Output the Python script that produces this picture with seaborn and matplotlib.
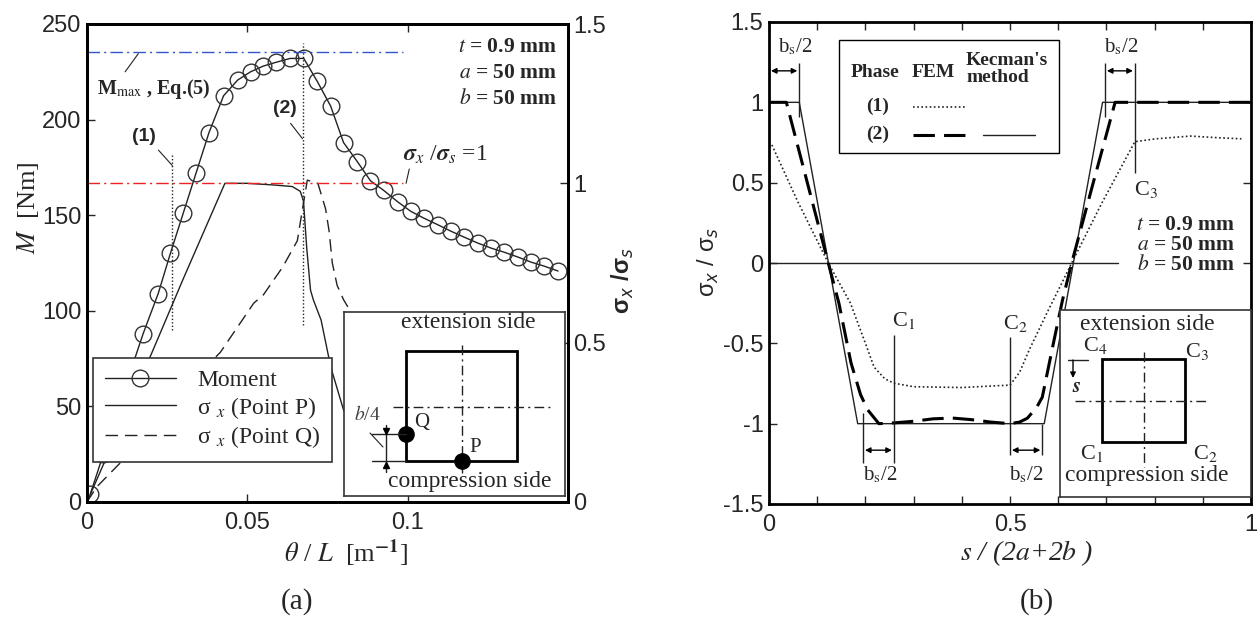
import matplotlib
matplotlib.use("Agg")
import matplotlib.pyplot as plt
from matplotlib.patches import Rectangle
from matplotlib.lines import Line2D
import seaborn as sns

# ---------------- data: panel (a) ----------------
theta_moment = [0.001, 0.0051, 0.0092, 0.0133, 0.0175, 0.0222, 0.026, 0.030, 0.034, 0.038,
                0.0426, 0.047, 0.051, 0.055, 0.059, 0.0634, 0.0676, 0.0718, 0.076, 0.080,
                0.0843, 0.0884, 0.0925, 0.0969, 0.101, 0.105, 0.1094, 0.1134, 0.1175, 0.1219,
                0.126, 0.130, 0.1344, 0.1384, 0.1425, 0.1469]
moment = [4, 25, 46, 67, 88, 109, 130, 151, 172, 193,
          212.5, 220.7, 225, 228, 230, 232, 232, 220, 207, 188,
          178, 168, 163, 157, 152, 148.5, 145, 141.7, 138.6, 135.4,
          132.8, 130.7, 128.1, 125.5, 123.4, 120.8]

theta_p = [0, 0.010, 0.0206, 0.030, 0.043, 0.050, 0.058, 0.064, 0.0665, 0.0675,
           0.0685, 0.0697, 0.0706, 0.073, 0.076, 0.080, 0.085, 0.090]
sigma_p = [0, 0.23, 0.477, 0.70, 1.0, 1.0, 0.995, 0.99, 0.975, 0.945,
           0.80, 0.665, 0.634, 0.571, 0.424, 0.289, 0.18, 0.12]

theta_q = [0, 0.003, 0.0103, 0.020, 0.030, 0.0416, 0.052, 0.055, 0.061, 0.0656,
           0.067, 0.0687, 0.072, 0.0744, 0.0755, 0.0765, 0.078, 0.080, 0.081, 0.085]
sigma_q = [0, 0.047, 0.122, 0.24, 0.35, 0.47, 0.624, 0.65, 0.737, 0.82,
           0.907, 1.01, 1.0, 0.92, 0.85, 0.75, 0.68, 0.635, 0.618, 0.55]

m_max_value = 235.4
sigma_unit = 1.0
ref_line_end = 0.0985
phase_theta = [0.0266, 0.0675]
phase_top = [182, 240]
phase_bottom = [90, 92.5]

# ---------------- data: panel (b) ----------------
s_kecman = [0, 0.0628, 0.184, 0.571, 0.692, 1.0]
sig_kecman = [1, 1, -1, -1, 1, 1]

s_fem2 = [0, 0.036, 0.123, 0.145, 0.17, 0.19, 0.205, 0.228, 0.26, 0.30, 0.34, 0.38, 0.42,
          0.46, 0.50, 0.52, 0.536, 0.555, 0.567, 0.59, 0.609, 0.628, 0.67, 0.70, 0.718, 1.0]
sig_fem2 = [1, 1, 0.0, -0.25, -0.62, -0.82, -0.915, -1.0, -0.995, -0.985, -0.97, -0.965, -0.975,
            -0.99, -1.0, -0.99, -0.966, -0.9, -0.835, -0.5, -0.23, 0.0, 0.47, 0.80, 1.0, 1.0]

s_fem1 = [0.006, 0.06, 0.123, 0.169, 0.20, 0.218, 0.24, 0.259, 0.30, 0.40, 0.50, 0.52, 0.54,
          0.58, 0.60, 0.628, 0.69, 0.759, 0.803, 0.874, 0.93, 0.98]
sig_fem1 = [0.735, 0.38, 0.0, -0.25, -0.5, -0.648, -0.72, -0.748, -0.77, -0.775, -0.76, -0.68,
            -0.54, -0.29, -0.17, 0.0, 0.37, 0.755, 0.773, 0.79, 0.78, 0.773]

corner_s = [0.259, 0.5, 0.759]
corner_names = ["C$_{1}$", "C$_{2}$", "C$_{3}$"]

x_ticks_a = [0, 0.05, 0.1]
x_ticklabels_a = ["0", "0.05", "0.1"]
y_ticks_a = [0, 50, 100, 150, 200, 250]
y2_ticks_a = [0, 0.5, 1, 1.5]
y2_ticklabels_a = ["0", "0.5", "1", "1.5"]
x_ticks_b = [0, 0.1, 0.2, 0.3, 0.4, 0.5, 0.6, 0.7, 0.8, 0.9, 1.0]
x_ticklabels_b = ["0", "", "", "", "", "0.5", "", "", "", "", "1"]
y_ticks_b = [-1.5, -1, -0.5, 0, 0.5, 1, 1.5]
y_ticklabels_b = ["-1.5", "-1", "-0.5", "0", "0.5", "1", "1.5"]

# ---------------- style ----------------
sns.set_theme(style="ticks")
plt.rcParams["font.family"] = ["Liberation Sans", "DejaVu Sans"]
plt.rcParams["mathtext.fontset"] = "stix"
SERIF = ["Liberation Serif", "DejaVu Serif"]
INK = "#222222"
TICKFS = 17

W, H = 1257, 621
fig = plt.figure(figsize=(W / 100, H / 100), dpi=100)


def frac_rect(x0, y0, x1, y1):
    return [x0 / W, 1 - y1 / H, (x1 - x0) / W, (y1 - y0) / H]


def style_axes(ax):
    for sp in ax.spines.values():
        sp.set_linewidth(2)
        sp.set_color("black")
        sp.set_visible(True)


# ================= panel (a) =================
ax1 = fig.add_axes(frac_rect(87, 24, 568, 502))
ax1b = ax1.twinx()
style_axes(ax1)
style_axes(ax1b)

sns.lineplot(x=theta_moment, y=moment, ax=ax1, color=INK, lw=1, marker="o", markersize=12,
             markerfacecolor="none", markeredgecolor="#333333", markeredgewidth=1,
             sort=False, estimator=None, label="Moment")
ax1.axhline(m_max_value, xmin=0, xmax=ref_line_end / 0.15, color="#3355cc", lw=1,
            dashes=(9, 3, 1.5, 3))
ax1.vlines(phase_theta, phase_bottom, phase_top, colors=INK, lw=1, linestyles=(0, (1, 1.5)))

sns.lineplot(x=theta_p, y=sigma_p, ax=ax1b, color=INK, lw=1, sort=False, estimator=None,
             label="σ $_x$ (Point P)")
sns.lineplot(x=theta_q, y=sigma_q, ax=ax1b, color=INK, lw=1, sort=False, estimator=None,
             dashes=(9, 5), label="σ $_x$ (Point Q)")
ax1b.axhline(sigma_unit, xmin=0, xmax=ref_line_end / 0.15, color="#ee2222", lw=1,
             dashes=(9, 3, 1.5, 3))

ax1.set_xlim(0, 0.15)
ax1.set_ylim(0, 250)
ax1b.set_ylim(0, 1.5)
ax1.set_xticks(x_ticks_a, x_ticklabels_a)
ax1.set_yticks(y_ticks_a, [str(v) for v in y_ticks_a])
ax1b.set_yticks(y2_ticks_a, y2_ticklabels_a)
ax1.tick_params(axis="both", direction="in", length=6, width=1, labelsize=TICKFS,
                top=True, right=False, pad=4)
ax1.tick_params(axis="x", pad=7)
ax1b.tick_params(axis="y", direction="in", length=6, width=1, labelsize=TICKFS, pad=4)
ax1.set_xlabel("")
ax1.set_ylabel("")
ax1b.set_ylabel("")
for a in (ax1, ax1b):
    if a.get_legend() is not None:
        a.get_legend().remove()

h1, l1 = ax1.get_legend_handles_labels()
h2, l2 = ax1b.get_legend_handles_labels()
leg = ax1b.legend(h1 + h2, l1 + l2, loc="lower left", bbox_to_anchor=(0.0125, 0.084),
                  frameon=True, fancybox=False, framealpha=1, edgecolor="#333333",
                  handlelength=3.0, handletextpad=0.9, labelspacing=0.15, borderpad=0.5,
                  prop={"family": SERIF, "size": 17}, borderaxespad=0)
leg.get_frame().set_linewidth(1.2)

# annotations
ax1.text(0.003, 216, "M$_{\\mathrm{max}}$ , Eq.(5)", fontsize=14.5, fontweight="bold",
         family=SERIF, ha="left", va="center")
ax1.plot([0.0119, 0.0160], [225, 234.5], color=INK, lw=0.8)
ax1.text(0.0178, 191, "(1)", fontsize=14, fontweight="bold", ha="center", va="center")
ax1.plot([0.0223, 0.0266], [184, 176], color=INK, lw=0.8)
ax1.text(0.0616, 206, "(2)", fontsize=14, fontweight="bold", ha="center", va="center")
ax1.plot([0.0635, 0.0672], [198, 190], color=INK, lw=0.8)
ax1b.text(0.0985, 1.09, "$\\boldsymbol{\\sigma}_x$ /$\\boldsymbol{\\sigma}_s$ =1", fontsize=17,
          ha="left", va="center", family=SERIF)
ax1b.plot([0.0995, 0.1005], [1.0, 1.045], color=INK, lw=0.8)
for i, (lab, val) in enumerate([("$t$", "0.9"), ("$a$", "50"), ("$b$", "50")]):
    ax1.text(0.977, 0.952 - 0.054 * i, f"{lab} = {val} mm", transform=ax1.transAxes,
             ha="right", va="center", fontsize=15.5, fontweight="bold", family=SERIF)

fig.text(28 / W, 1 - 208 / H, "$M$  [Nm]", rotation=90, fontsize=19, family=SERIF,
         ha="center", va="center")
fig.text(623 / W, 1 - 281 / H, "σ$_x$ /σ$_s$", rotation=90, fontsize=17, fontweight="bold",
         ha="center", va="center", math_fontfamily="dejavusans")
fig.text(346 / W, 1 - 553 / H, "$\\theta$ / $L$  [m$^{\\mathbf{-1}}$]", fontsize=19,
         family=SERIF, ha="center", va="center")
fig.text(297 / W, 1 - 602 / H, "(a)", fontsize=21, family=SERIF, ha="center", va="center")

# inset (a)
ia = fig.add_axes(frac_rect(344, 312, 565, 496))
ia.set_zorder(5)
ia.set_xlim(0, 221)
ia.set_ylim(184, 0)
ia.set_xticks([])
ia.set_yticks([])
ia.set_facecolor("white")
for sp in ia.spines.values():
    sp.set_linewidth(1.2)
    sp.set_color("#333333")
ia.add_patch(Rectangle((62, 39), 111, 110, fill=False, lw=2, ec="black"))
ia.plot([118, 118], [33, 161], color=INK, lw=1, dashes=(7, 3, 1.5, 3))
ia.plot([49, 206], [95, 95], color=INK, lw=1, dashes=(7, 3, 1.5, 3))
ia.plot([62, 118], [122, 149], "o", color="black", ms=11)
ia.text(78, 111, "Q", fontsize=15, family=SERIF, ha="center", va="center")
ia.text(131, 135, "P", fontsize=15, family=SERIF, ha="center", va="center")
ia.plot([28, 62], [122, 122], color=INK, lw=1)
ia.plot([28, 62], [149, 149], color=INK, lw=1)
ia.plot([42, 42], [113, 160], color=INK, lw=1)
ia.plot([42], [119], marker="v", color="black", ms=5)
ia.plot([42], [153], marker="^", color="black", ms=5)
ia.text(23, 103, "$b$/4", fontsize=14, family=SERIF, ha="center", va="center",
        color="#444444")
ia.plot([26, 39], [121, 135], color=INK, lw=0.8)
ia.text(124, 11, "extension side", fontsize=17, family=SERIF, ha="center", va="center")
ia.text(126, 170, "compression side", fontsize=17, family=SERIF, ha="center", va="center")

# ================= panel (b) =================
ax2 = fig.add_axes(frac_rect(769, 22, 1251, 504))
style_axes(ax2)
ax2.axhline(0, xmin=0, xmax=0.724, color=INK, lw=1)
sns.lineplot(x=s_kecman, y=sig_kecman, ax=ax2, color=INK, lw=1, sort=False, estimator=None)
sns.lineplot(x=s_fem2, y=sig_fem2, ax=ax2, color="black", lw=2.2, sort=False, estimator=None,
             dashes=(7, 3))
sns.lineplot(x=s_fem1, y=sig_fem1, ax=ax2, color=INK, lw=1.2, sort=False, estimator=None,
             dashes=(1, 1.5))
ax2.set_xlim(0, 1)
ax2.set_ylim(-1.5, 1.5)
ax2.set_xticks(x_ticks_b, x_ticklabels_b)
ax2.set_yticks(y_ticks_b, y_ticklabels_b)
ax2.tick_params(axis="both", direction="in", length=6, width=1, labelsize=TICKFS,
                top=True, right=True, pad=4)
ax2.tick_params(axis="x", pad=7)
ax2.set_xlabel("")
ax2.set_ylabel("")

# corner marker lines
corner_low = [-1.246, -1.196, 0.561]
corner_high = [-0.449, -0.461, 1.246]
ax2.vlines(corner_s, corner_low, corner_high, colors=INK, lw=1)
corner_text_y = [-0.355, -0.375, 0.455]
corner_text_dx = [0.02, 0.012, 0.024]
for s, name, ty, dx in zip(corner_s, corner_names, corner_text_y, corner_text_dx):
    ax2.text(s + dx, ty, name, fontsize=16, family=SERIF, ha="center", va="center")

# bs/2 dimensions
dim_left = [0.0, 0.697, 0.195, 0.5]
dim_right = [0.0628, 0.759, 0.259, 0.567]
dim_y = [1.196, 1.196, -1.165, -1.165]
dim_text_x = [0.054, 0.731, 0.230, 0.533]
dim_text_y = [1.346, 1.346, -1.32, -1.32]
ax2.vlines([0.0628, 0.697], 0.91, 1.246, colors=INK, lw=1)
ax2.vlines([0.195], -0.935, -1.246, colors=INK, lw=1)
ax2.vlines([0.567], -1.0, -1.196, colors=INK, lw=1)
for x0, x1, y, tx, ty in zip(dim_left, dim_right, dim_y, dim_text_x, dim_text_y):
    ax2.annotate("", xy=(x0 + 0.004, y), xytext=(x1 - 0.004, y),
                 arrowprops=dict(arrowstyle="<|-|>", color="black", lw=1,
                                 mutation_scale=8, shrinkA=0, shrinkB=0))
    ax2.text(tx, ty, "b$_{\\mathrm{s}}$/2", fontsize=15, family=SERIF,
             ha="center", va="center")

# legend table
ax2.add_patch(Rectangle((0.145, 0.728), 0.457, 0.235, transform=ax2.transAxes, fill=False,
                        lw=1, ec="black"))
tk = dict(transform=ax2.transAxes, family=SERIF, fontsize=14, fontweight="bold", va="center")
ax2.text(0.220, 0.896, "Phase", ha="center", **tk)
ax2.text(0.340, 0.896, "FEM", ha="center", **tk)
ax2.text(0.409, 0.903, "Kecman's\nmethod", ha="left", linespacing=1.0, **tk)
ax2.text(0.226, 0.824, "(1)", ha="center", **tk)
ax2.text(0.226, 0.766, "(2)", ha="center", **tk)
ax2.add_line(Line2D([0.299, 0.407], [0.824, 0.824], transform=ax2.transAxes, color=INK,
                    lw=1.2, dashes=(1, 1.5)))
ax2.add_line(Line2D([0.299, 0.407], [0.766, 0.766], transform=ax2.transAxes, color="black",
                    lw=2.2, dashes=(7, 3)))
ax2.add_line(Line2D([0.444, 0.552], [0.766, 0.766], transform=ax2.transAxes, color=INK,
                    lw=1))

for i, (lab, val) in enumerate([("$t$", "0.9"), ("$a$", "50"), ("$b$", "50")]):
    ax2.text(0.967, 0.579 - 0.042 * i, f"{lab} = {val} mm", transform=ax2.transAxes,
             ha="right", va="center", fontsize=15.5, fontweight="bold", family=SERIF)

fig.text(708 / W, 1 - 262 / H, "σ$_x$ / σ$_s$", rotation=90, fontsize=17,
         ha="center", va="center", math_fontfamily="dejavusans")
fig.text(1027 / W, 1 - 553 / H, "$s$ / (2$a$+2$b$ )", fontsize=20, family=SERIF,
         style="italic", ha="center", va="center")
fig.text(1037 / W, 1 - 602 / H, "(b)", fontsize=21, family=SERIF, ha="center", va="center")

# inset (b)
ib = fig.add_axes(frac_rect(1060, 310, 1251, 497))
ib.set_zorder(5)
ib.set_xlim(0, 191)
ib.set_ylim(187, 0)
ib.set_xticks([])
ib.set_yticks([])
ib.set_facecolor("white")
for sp in ib.spines.values():
    sp.set_linewidth(1.2)
    sp.set_color("#333333")
ib.add_patch(Rectangle((42, 49), 83, 83, fill=False, lw=2, ec="black"))
ib.plot([84, 84], [42, 157], color=INK, lw=1, dashes=(7, 3, 1.5, 3))
ib.plot([15, 147], [91, 91], color=INK, lw=1, dashes=(7, 3, 1.5, 3))
ib.text(87, 15, "extension side", fontsize=17, family=SERIF, ha="center", va="center")
ib.text(87, 166, "compression side", fontsize=17, family=SERIF, ha="center", va="center")
for (cx, cy, nm) in [(35, 35, "C$_{4}$"), (137, 42, "C$_{3}$"), (32, 143, "C$_{1}$"),
                     (145, 143, "C$_{2}$")]:
    ib.text(cx, cy, nm, fontsize=16, family=SERIF, ha="center", va="center")
ib.plot([8, 28], [50, 50], color=INK, lw=1)
ib.annotate("", xy=(13, 68), xytext=(13, 50),
            arrowprops=dict(arrowstyle="-|>", color="black", lw=1, mutation_scale=8,
                            shrinkA=0, shrinkB=0))
ib.text(17, 77, "$\\boldsymbol{s}$", fontsize=15, ha="center", va="center")

fig.savefig("out.png", dpi=100)
